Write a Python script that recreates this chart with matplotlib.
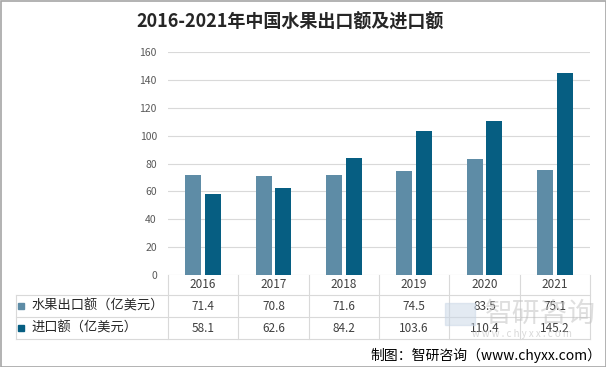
import matplotlib.pyplot as plt
import matplotlib.transforms as mtransforms
from matplotlib.patches import Rectangle
import numpy as np

plt.rcParams['font.family'] = ['Noto Sans CJK SC', 'DejaVu Sans']

# data
years = ['2016', '2017', '2018', '2019', '2020', '2021']
export_vals = [71.4, 70.8, 71.6, 74.5, 83.5, 75.1]
import_vals = [58.1, 62.6, 84.2, 103.6, 110.4, 145.2]
series_names = ['水果出口额（亿美元）', '进口额（亿美元）']
title = '2016-2021年中国水果出口额及进口额'
source = '制图：智研咨询（www.chyxx.com）'

c_light = '#5E8CA6'
c_dark = '#065E82'
grid_c = '#D9D9D9'

fig = plt.figure(figsize=(6.06, 3.67), dpi=100)
W, H = 606, 367
ax = fig.add_axes([168 / W, 1 - 275 / H, (590 - 168) / W, (275 - 52) / H])

x = np.arange(len(years))
ax.bar(x - 0.14, export_vals, width=0.225, color=c_light, zorder=3)
ax.bar(x + 0.14, import_vals, width=0.225, color=c_dark, zorder=3)

ax.set_xlim(-0.5, len(years) - 0.5)
ax.set_ylim(0, 160)
ax.set_yticks(range(0, 161, 20))
ax.set_xticks([])
ax.tick_params(axis='y', length=0, pad=8, labelsize=7.5, labelcolor='#595959')
for s in ax.spines.values():
    s.set_visible(False)
ax.grid(axis='y', color=grid_c, lw=0.8, zorder=0)

# table under the axis (data x, pixel-based y)
def ypx(p):
    return (275 - p) / (275 - 52)

tr = mtransforms.blended_transform_factory(ax.transData, ax.transAxes)
left_data = -0.5 - (168 - 16) / ((590 - 168) / len(years))

for p in [295, 317, 339]:
    ax.plot([left_data, len(years) - 0.5], [ypx(p), ypx(p)], transform=tr,
            color=grid_c, lw=0.8, clip_on=False)
for k in range(len(years) + 1):
    ax.plot([k - 0.5, k - 0.5], [ypx(275), ypx(339)], transform=tr,
            color=grid_c, lw=0.8, clip_on=False)
ax.plot([left_data, left_data], [ypx(295), ypx(339)], transform=tr,
        color=grid_c, lw=0.8, clip_on=False)

for i, yr in enumerate(years):
    ax.text(i, ypx(285), yr, transform=tr, ha='center', va='center',
            fontsize=8.5, color='#404040')
    ax.text(i, ypx(306), f'{export_vals[i]}', transform=tr, ha='center',
            va='center', fontsize=8.5, color='#404040', zorder=5)
    ax.text(i, ypx(328), f'{import_vals[i]}', transform=tr, ha='center',
            va='center', fontsize=8.5, color='#404040', zorder=5)

for name, col, yc in [(series_names[0], c_light, 306), (series_names[1], c_dark, 328)]:
    fig.patches.append(Rectangle((18 / W, 1 - (yc + 3) / H), 6 / W, 6 / H,
                                 transform=fig.transFigure, color=col))
    fig.text(31 / W, 1 - yc / H, name, ha='left', va='center',
             fontsize=9.5, color='#262626')

# faint watermark logo
fig.patches.append(Rectangle((445 / W, 1 - 325 / H), 30 / W, 22 / H,
                             transform=fig.transFigure, color='#C8D6E6',
                             alpha=0.5, zorder=0))
fig.text(540 / W, 1 - 314 / H, '智研咨询', ha='center', va='center',
         fontsize=20, color='#BFBFBF', alpha=0.5, zorder=0)
fig.text(522 / W, 1 - 334 / H, 'w w w . c h y x x . c o m', ha='center',
         va='center', fontsize=7, color='#BFBFBF', alpha=0.6, zorder=0)

fig.text(290 / W, 1 - 22 / H, title, ha='center', va='center',
         fontsize=13, fontweight='bold', color='#262626')
fig.text(601 / W, 1 - 355 / H, source, ha='right', va='center',
         fontsize=10, color='#000000')

fig.patches.append(Rectangle((0.5 / W, 0.5 / H), 1 - 1 / W, 1 - 1 / H,
                             transform=fig.transFigure, fill=False,
                             edgecolor='#A6A6A6', lw=1.2))

fig.savefig('out.png', dpi=100)
